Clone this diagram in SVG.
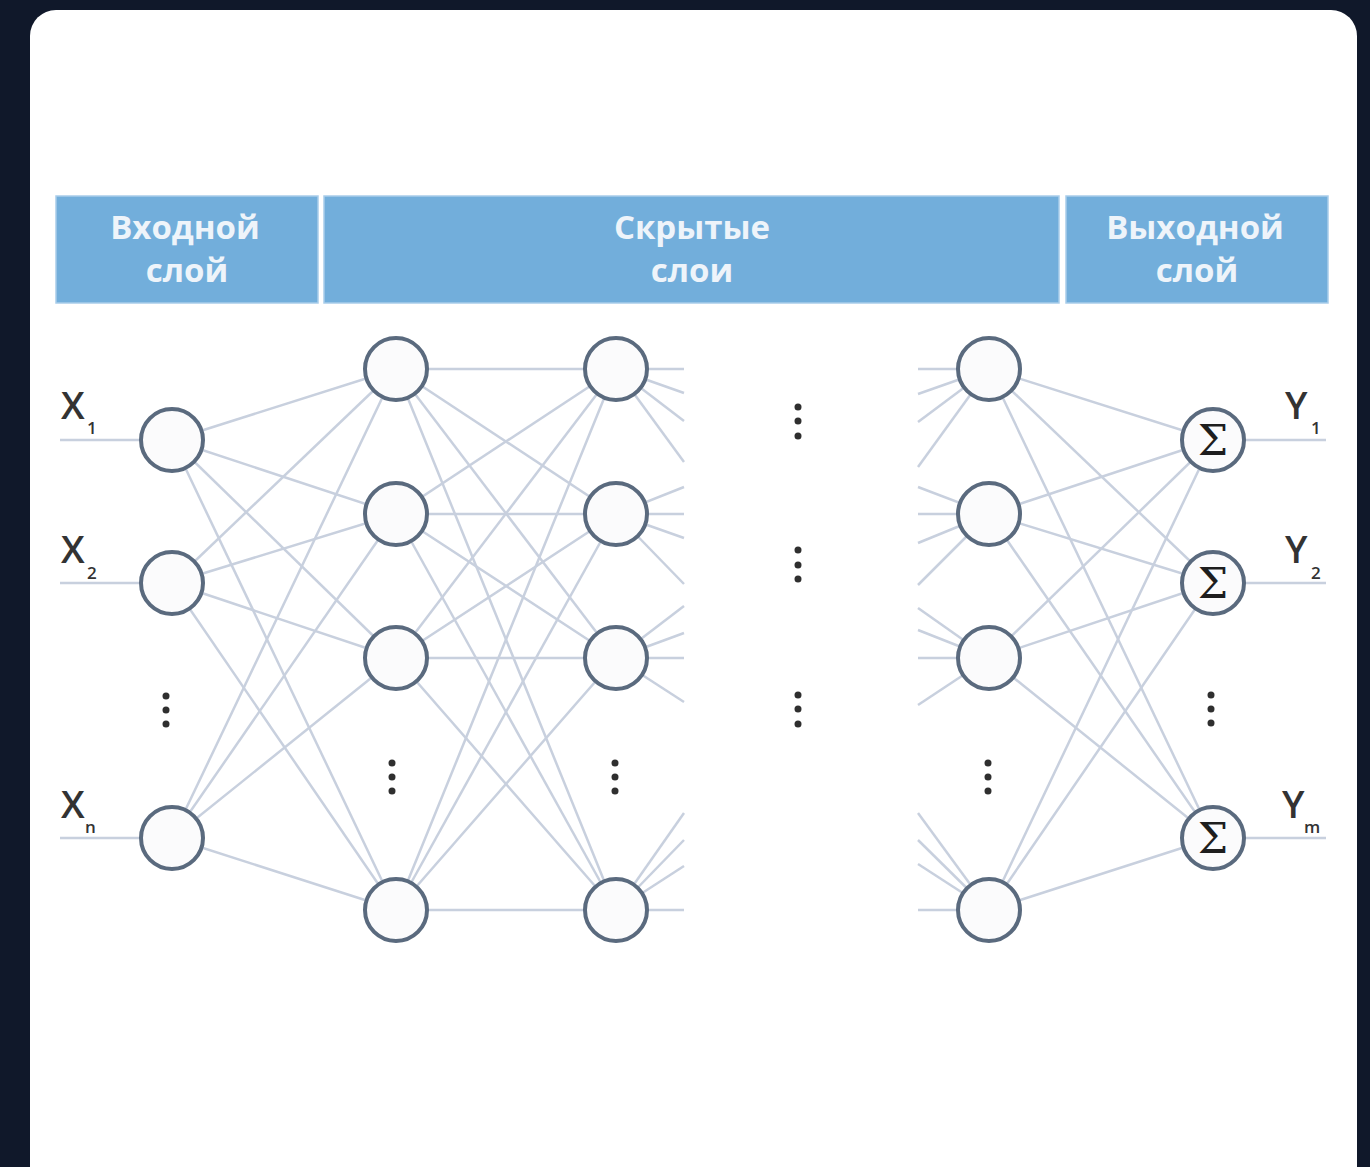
<svg xmlns="http://www.w3.org/2000/svg" width="1370" height="1167" viewBox="0 0 1370 1167">
<style>
.bar{fill:#72aedb;stroke:#a9cdea;stroke-width:1.5}
.hd{font-family:"Open Sans","Liberation Sans",sans-serif;font-weight:bold;font-size:33px;fill:#eef4fa;text-anchor:middle}
.lb{font-family:"Open Sans","Liberation Sans",sans-serif;font-weight:600;font-size:38px;fill:#333333}
.sb{font-family:"Open Sans","Liberation Sans",sans-serif;font-weight:600;font-size:17px;fill:#333333}
.nd{fill:#fbfbfc;stroke:#5a6a7e;stroke-width:4}
.sg{font-family:"DejaVu Serif","Liberation Serif",serif;font-size:43px;fill:#1e1e1e;text-anchor:middle}
#connectors line{stroke:#c8d0de;stroke-width:2.5}
.dt{fill:#2f2f2f}
</style>
<rect x="0" y="0" width="1370" height="1167" fill="#10182a"/>
<rect x="30" y="10" width="1327" height="1182" rx="26" fill="#ffffff"/>
<g id="headers">
<rect class="bar" x="56" y="196" width="262" height="107"/>
<rect class="bar" x="324" y="196" width="735" height="107"/>
<rect class="bar" x="1066" y="196" width="262" height="107"/>
<text class="hd" x="185" y="239">Входной</text>
<text class="hd" x="187" y="282">слой</text>
<text class="hd" x="692" y="239">Скрытые</text>
<text class="hd" x="692" y="282">слои</text>
<text class="hd" x="1195" y="239">Выходной</text>
<text class="hd" x="1197" y="282">слой</text>
</g>
<g id="connectors">
<line x1="60" y1="440" x2="172" y2="440"/>
<line x1="60" y1="583" x2="172" y2="583"/>
<line x1="60" y1="838" x2="172" y2="838"/>
<line x1="1213" y1="440" x2="1326" y2="440"/>
<line x1="1213" y1="583" x2="1326" y2="583"/>
<line x1="1213" y1="838" x2="1326" y2="838"/>
<line x1="172" y1="440" x2="396" y2="369"/>
<line x1="172" y1="440" x2="396" y2="514"/>
<line x1="172" y1="440" x2="396" y2="658"/>
<line x1="172" y1="440" x2="396" y2="910"/>
<line x1="172" y1="583" x2="396" y2="369"/>
<line x1="172" y1="583" x2="396" y2="514"/>
<line x1="172" y1="583" x2="396" y2="658"/>
<line x1="172" y1="583" x2="396" y2="910"/>
<line x1="172" y1="838" x2="396" y2="369"/>
<line x1="172" y1="838" x2="396" y2="514"/>
<line x1="172" y1="838" x2="396" y2="658"/>
<line x1="172" y1="838" x2="396" y2="910"/>
<line x1="396" y1="369" x2="616" y2="369"/>
<line x1="396" y1="369" x2="616" y2="514"/>
<line x1="396" y1="369" x2="616" y2="658"/>
<line x1="396" y1="369" x2="616" y2="910"/>
<line x1="396" y1="514" x2="616" y2="369"/>
<line x1="396" y1="514" x2="616" y2="514"/>
<line x1="396" y1="514" x2="616" y2="658"/>
<line x1="396" y1="514" x2="616" y2="910"/>
<line x1="396" y1="658" x2="616" y2="369"/>
<line x1="396" y1="658" x2="616" y2="514"/>
<line x1="396" y1="658" x2="616" y2="658"/>
<line x1="396" y1="658" x2="616" y2="910"/>
<line x1="396" y1="910" x2="616" y2="369"/>
<line x1="396" y1="910" x2="616" y2="514"/>
<line x1="396" y1="910" x2="616" y2="658"/>
<line x1="396" y1="910" x2="616" y2="910"/>
<line x1="616" y1="369" x2="684" y2="369"/>
<line x1="616" y1="369" x2="684" y2="393"/>
<line x1="616" y1="369" x2="684" y2="421"/>
<line x1="616" y1="369" x2="684" y2="462"/>
<line x1="616" y1="514" x2="684" y2="487"/>
<line x1="616" y1="514" x2="684" y2="514"/>
<line x1="616" y1="514" x2="684" y2="538"/>
<line x1="616" y1="514" x2="684" y2="584"/>
<line x1="616" y1="658" x2="684" y2="606"/>
<line x1="616" y1="658" x2="684" y2="633"/>
<line x1="616" y1="658" x2="684" y2="658"/>
<line x1="616" y1="658" x2="684" y2="702"/>
<line x1="616" y1="910" x2="684" y2="813"/>
<line x1="616" y1="910" x2="684" y2="840"/>
<line x1="616" y1="910" x2="684" y2="866"/>
<line x1="616" y1="910" x2="684" y2="910"/>
<line x1="918" y1="369" x2="989" y2="369"/>
<line x1="918" y1="394" x2="989" y2="369"/>
<line x1="918" y1="422" x2="989" y2="369"/>
<line x1="918" y1="467" x2="989" y2="369"/>
<line x1="918" y1="487" x2="989" y2="514"/>
<line x1="918" y1="514" x2="989" y2="514"/>
<line x1="918" y1="543" x2="989" y2="514"/>
<line x1="918" y1="585" x2="989" y2="514"/>
<line x1="918" y1="608" x2="989" y2="658"/>
<line x1="918" y1="630" x2="989" y2="658"/>
<line x1="918" y1="658" x2="989" y2="658"/>
<line x1="918" y1="705" x2="989" y2="658"/>
<line x1="918" y1="813" x2="989" y2="910"/>
<line x1="918" y1="840" x2="989" y2="910"/>
<line x1="918" y1="864" x2="989" y2="910"/>
<line x1="918" y1="910" x2="989" y2="910"/>
<line x1="989" y1="369" x2="1213" y2="440"/>
<line x1="989" y1="369" x2="1213" y2="583"/>
<line x1="989" y1="369" x2="1213" y2="838"/>
<line x1="989" y1="514" x2="1213" y2="440"/>
<line x1="989" y1="514" x2="1213" y2="583"/>
<line x1="989" y1="514" x2="1213" y2="838"/>
<line x1="989" y1="658" x2="1213" y2="440"/>
<line x1="989" y1="658" x2="1213" y2="583"/>
<line x1="989" y1="658" x2="1213" y2="838"/>
<line x1="989" y1="910" x2="1213" y2="440"/>
<line x1="989" y1="910" x2="1213" y2="583"/>
<line x1="989" y1="910" x2="1213" y2="838"/>
</g>
<g id="in1"><circle class="nd" cx="172" cy="440" r="31"/></g>
<g id="in2"><circle class="nd" cx="172" cy="583" r="31"/></g>
<g id="inN"><circle class="nd" cx="172" cy="838" r="31"/></g>
<g id="h1a"><circle class="nd" cx="396" cy="369" r="31"/></g>
<g id="h1b"><circle class="nd" cx="396" cy="514" r="31"/></g>
<g id="h1c"><circle class="nd" cx="396" cy="658" r="31"/></g>
<g id="h1d"><circle class="nd" cx="396" cy="910" r="31"/></g>
<g id="h2a"><circle class="nd" cx="616" cy="369" r="31"/></g>
<g id="h2b"><circle class="nd" cx="616" cy="514" r="31"/></g>
<g id="h2c"><circle class="nd" cx="616" cy="658" r="31"/></g>
<g id="h2d"><circle class="nd" cx="616" cy="910" r="31"/></g>
<g id="hka"><circle class="nd" cx="989" cy="369" r="31"/></g>
<g id="hkb"><circle class="nd" cx="989" cy="514" r="31"/></g>
<g id="hkc"><circle class="nd" cx="989" cy="658" r="31"/></g>
<g id="hkd"><circle class="nd" cx="989" cy="910" r="31"/></g>
<g id="out1"><circle class="nd" cx="1213" cy="440" r="31"/><text class="sg" x="1213" y="455">Σ</text></g>
<g id="out2"><circle class="nd" cx="1213" cy="583" r="31"/><text class="sg" x="1213" y="598">Σ</text></g>
<g id="outM"><circle class="nd" cx="1213" cy="838" r="31"/><text class="sg" x="1213" y="853">Σ</text></g>
<g id="labels">
<text class="lb" x="61" y="419">X</text><text class="sb" x="87" y="434">1</text>
<text class="lb" x="61" y="563">X</text><text class="sb" x="87" y="579">2</text>
<text class="lb" x="61" y="818">X</text><text class="sb" x="85" y="833">n</text>
<text class="lb" x="1285" y="419">Y</text><text class="sb" x="1311" y="434">1</text>
<text class="lb" x="1285" y="563">Y</text><text class="sb" x="1311" y="579">2</text>
<text class="lb" x="1282" y="818">Y</text><text class="sb" x="1304" y="833">m</text>
</g>
<g id="dots">
<circle class="dt" cx="166" cy="696" r="3.5"/><circle class="dt" cx="166" cy="710" r="3.5"/><circle class="dt" cx="166" cy="724" r="3.5"/>
<circle class="dt" cx="392" cy="763" r="3.5"/><circle class="dt" cx="392" cy="777" r="3.5"/><circle class="dt" cx="392" cy="791" r="3.5"/>
<circle class="dt" cx="615" cy="763" r="3.5"/><circle class="dt" cx="615" cy="777" r="3.5"/><circle class="dt" cx="615" cy="791" r="3.5"/>
<circle class="dt" cx="988" cy="763" r="3.5"/><circle class="dt" cx="988" cy="777" r="3.5"/><circle class="dt" cx="988" cy="791" r="3.5"/>
<circle class="dt" cx="1211" cy="695" r="3.5"/><circle class="dt" cx="1211" cy="709" r="3.5"/><circle class="dt" cx="1211" cy="723" r="3.5"/>
<circle class="dt" cx="798" cy="407" r="3.5"/><circle class="dt" cx="798" cy="421" r="3.5"/><circle class="dt" cx="798" cy="436" r="3.5"/>
<circle class="dt" cx="798" cy="550" r="3.5"/><circle class="dt" cx="798" cy="565" r="3.5"/><circle class="dt" cx="798" cy="579" r="3.5"/>
<circle class="dt" cx="798" cy="695" r="3.5"/><circle class="dt" cx="798" cy="709" r="3.5"/><circle class="dt" cx="798" cy="724" r="3.5"/>
</g>
</svg>
